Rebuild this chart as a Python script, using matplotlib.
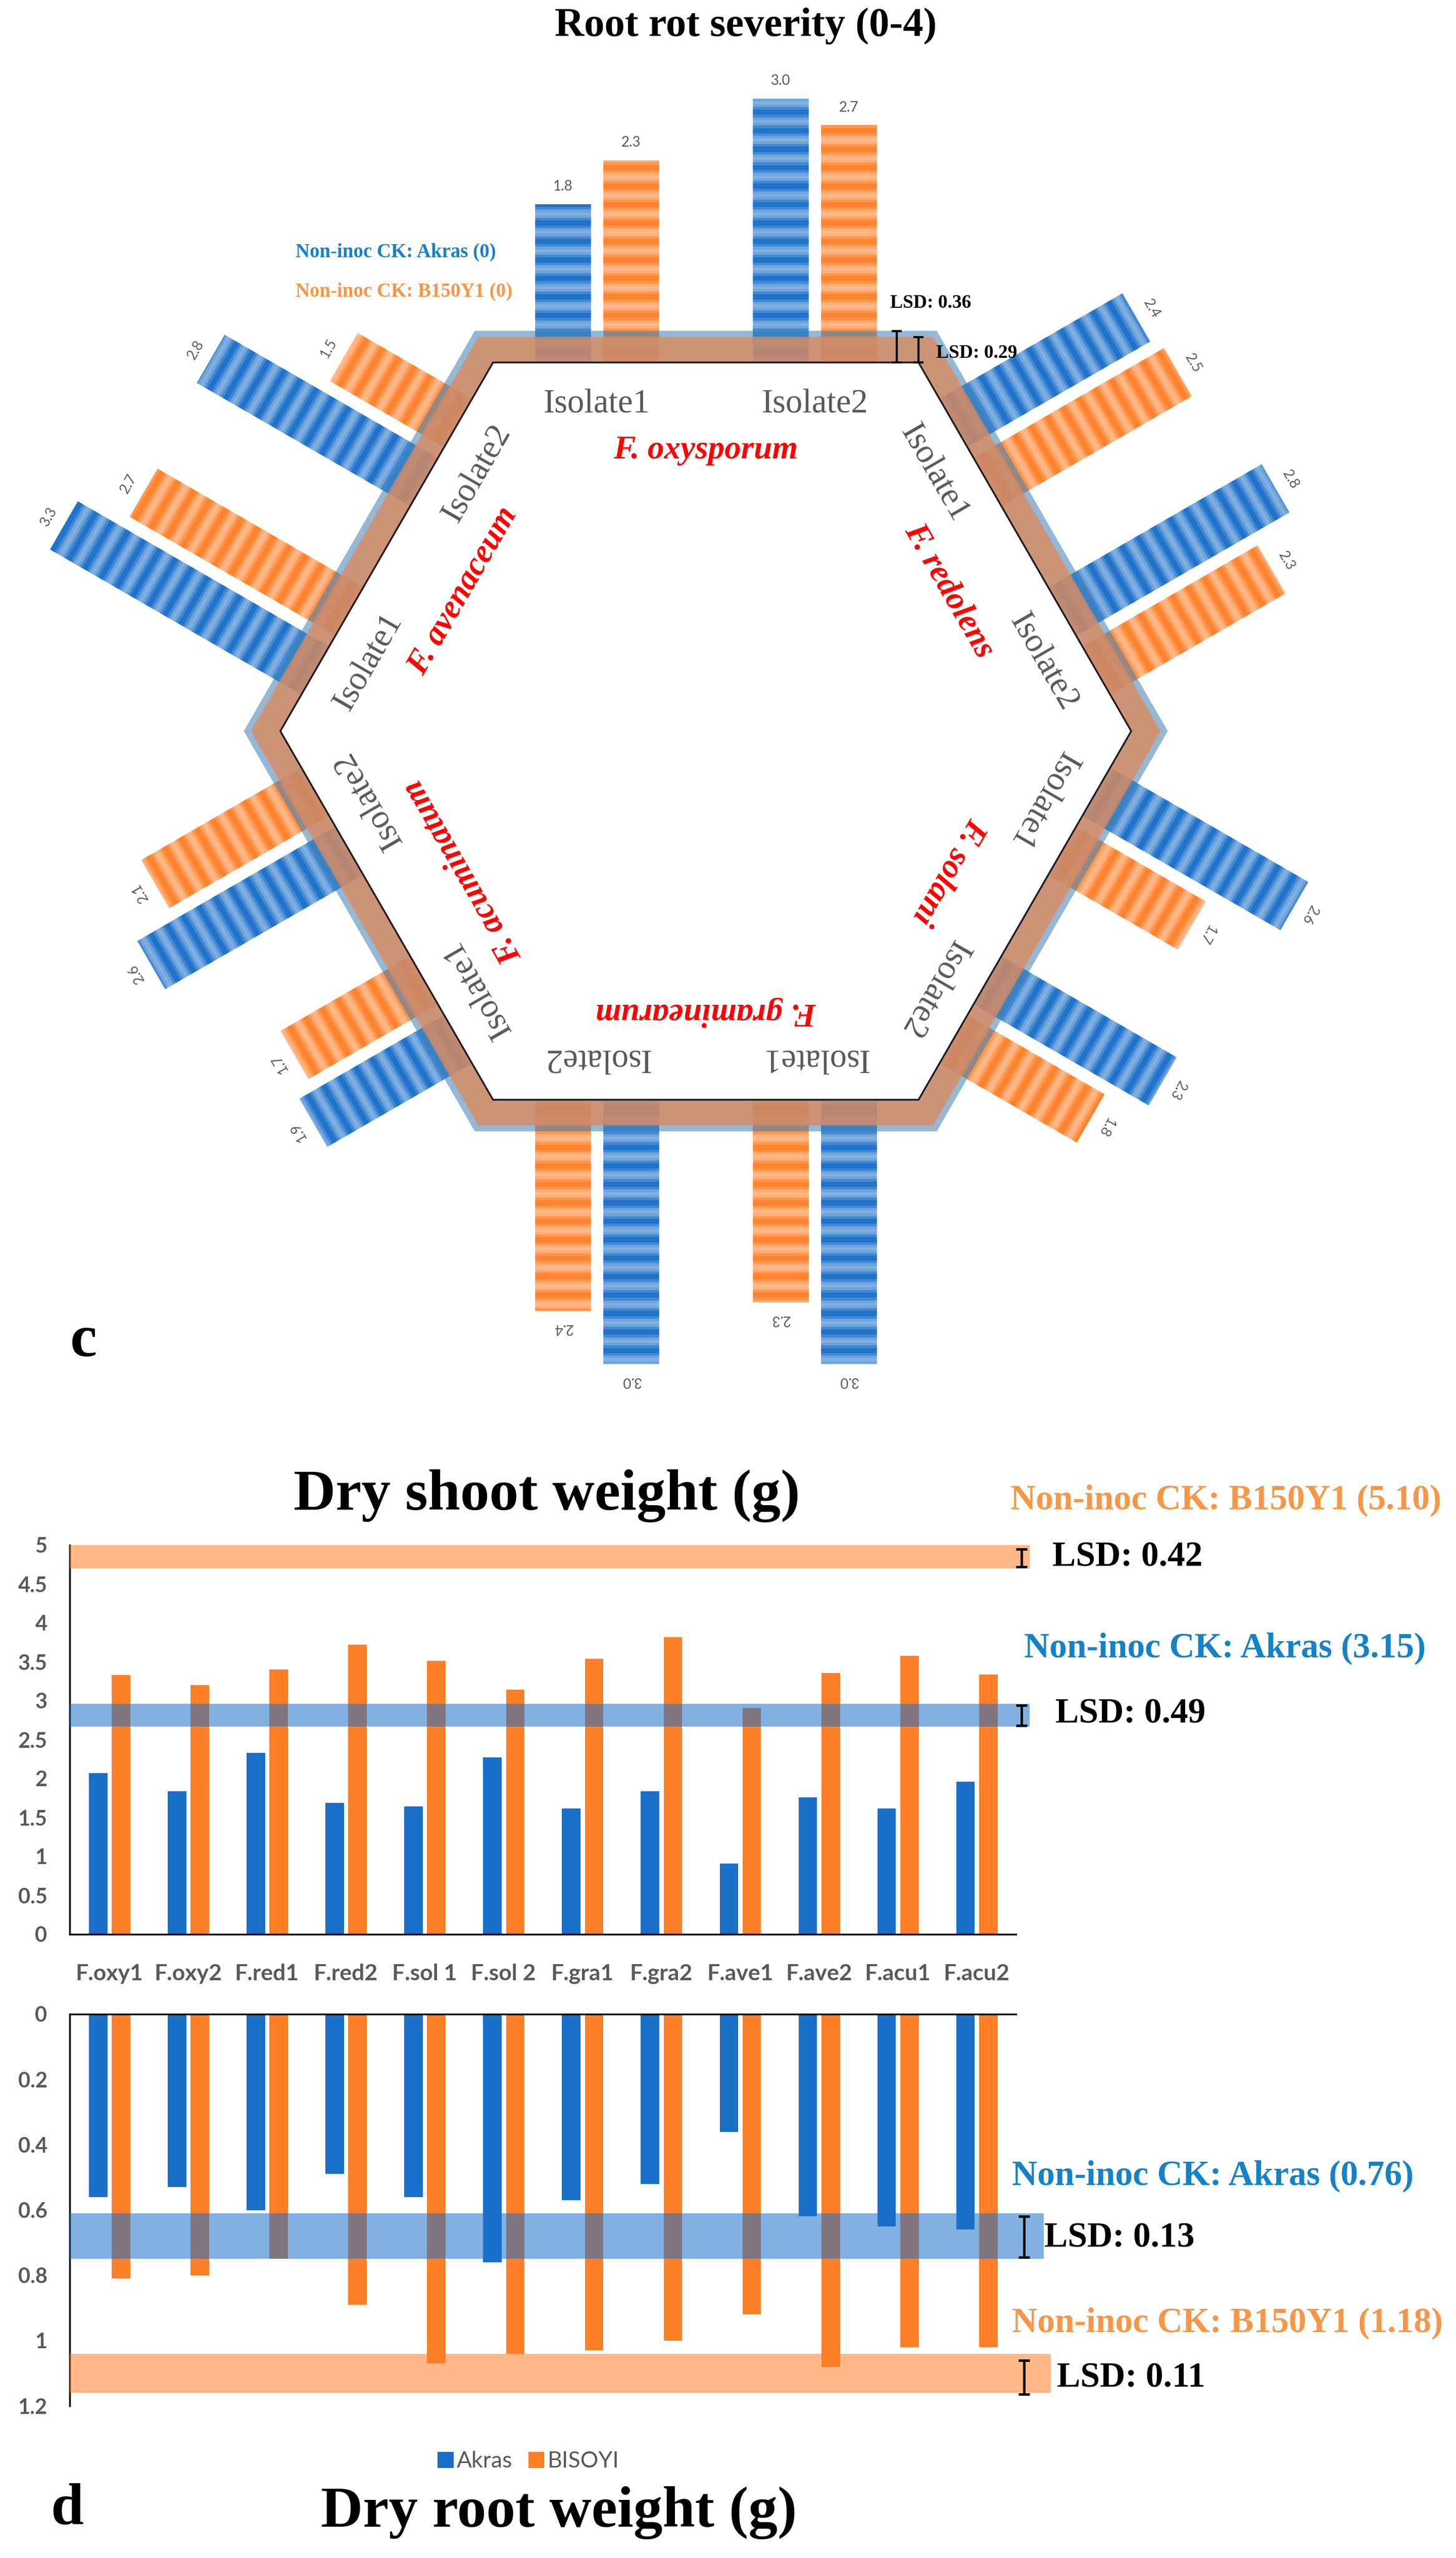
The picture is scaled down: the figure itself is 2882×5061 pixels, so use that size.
import numpy as np
import matplotlib
matplotlib.use("Agg")
import matplotlib.pyplot as plt
from matplotlib.path import Path
from matplotlib.patches import PathPatch, Polygon
from matplotlib.collections import PolyCollection
from matplotlib.colors import to_rgb

# ---- panel c: root rot severity (0-4), clockwise from the top edge ----
species = ["F. oxysporum", "F. redolens", "F. solani",
           "F. graminearum", "F. acuminatum", "F. avenaceum"]
isolates = ["Isolate1", "Isolate2"]
rot_akras = [[1.8, 3.0], [2.4, 2.8], [2.6, 2.3], [3.0, 3.0], [1.9, 2.6], [3.3, 2.8]]
rot_b150 = [[2.3, 2.7], [2.5, 2.3], [1.7, 1.8], [2.3, 2.4], [1.7, 2.1], [2.7, 1.5]]
lsd_rot_akras = 0.36
lsd_rot_b150 = 0.29

# ---- panel d: dry shoot / root weight (g) ----
cats = ["F.oxy1", "F.oxy2", "F.red1", "F.red2", "F.sol 1", "F.sol 2",
        "F.gra1", "F.gra2", "F.ave1", "F.ave2", "F.acu1", "F.acu2"]
shoot_akras = [2.07, 1.84, 2.33, 1.69, 1.64, 2.27, 1.62, 1.84, 0.91, 1.76, 1.62, 1.96]
shoot_b150 = [3.33, 3.20, 3.40, 3.72, 3.51, 3.14, 3.54, 3.82, 2.91, 3.36, 3.58, 3.34]
root_akras = [0.56, 0.53, 0.60, 0.49, 0.56, 0.76, 0.57, 0.52, 0.36, 0.62, 0.65, 0.66]
root_b150 = [0.81, 0.80, 0.75, 0.89, 1.07, 1.04, 1.03, 1.00, 0.92, 1.08, 1.02, 1.02]
shoot_band_b150 = (4.70, 5.00)
shoot_band_akras = (2.67, 2.96)
root_band_akras = (0.61, 0.75)
root_band_b150 = (1.04, 1.16)

SERIF = "Liberation Serif"
SANS = "Lato"
GRAY = "#595959"
BLUE = "#1A6FC9"
ORANGE = "#FF7F27"
TXT_BLUE = "#1482C8"
TXT_ORANGE = "#F79646"

W, H = 2882, 5061
fig = plt.figure(figsize=(W / 100, H / 100), dpi=100)


def fx(px):
    return px / W


def fy(py):
    return 1 - py / H


# ================= hexagon =================
S = 174.0          # pixels per severity unit
CX, CY = 1397, 1446.5
R = 4.84           # inner hexagon circumradius (severity units)
AP = R * np.sqrt(3) / 2
bar_w = 0.63
bar_pos = [-1.625, -0.85, 0.85, 1.625]
iso_pos = [-1.24, 1.24]

ax_h = fig.add_axes([0, fy(2882), 1, 2882 / H])
ax_h.set_xlim(-CX / S, (W - CX) / S)
ax_h.set_ylim(-(2882 - CY) / S, CY / S)
ax_h.axis("off")


def hex_pts(r):
    a = np.deg2rad(np.arange(0, 360, 60))
    return np.c_[r * np.cos(a), r * np.sin(a)]


def ring(r_in, r_out):
    o = hex_pts(r_out)
    i = hex_pts(r_in)[::-1]
    verts = np.vstack([o, o[:1], i, i[:1]])
    codes = ([Path.MOVETO] + [Path.LINETO] * 5 + [Path.CLOSEPOLY]) * 2
    return Path(verts, codes)


def striped_bar(k, t, val, color):
    ang = np.deg2rad(-60 * k)
    tx, ty = np.cos(ang), np.sin(ang)
    nx, ny = -ty, tx
    bx = AP * nx + t * tx
    by = AP * ny + t * ty
    base = np.array(to_rgb(color))
    light = base + (1 - base) * 0.45
    step = 0.03
    n = int(np.ceil(val / step))
    polys, cols = [], []
    for j in range(n):
        s0 = j * step
        s1 = min(val, s0 + step)
        h = bar_w / 2
        p = [(bx - h * tx + s0 * nx, by - h * ty + s0 * ny),
             (bx + h * tx + s0 * nx, by + h * ty + s0 * ny),
             (bx + h * tx + s1 * nx, by + h * ty + s1 * ny),
             (bx - h * tx + s1 * nx, by - h * ty + s1 * ny)]
        f = 0.5 + 0.5 * np.cos(2 * np.pi * s0 / 0.21)
        c = base * (1 - f) + light * f
        polys.append(p)
        cols.append(c)
    pc = PolyCollection(polys, facecolors=cols, edgecolors=cols,
                        linewidths=0.4, zorder=1)
    ax_h.add_collection(pc)
    # value label beyond the bar end
    lx = bx + (val + 0.2) * nx
    ly = by + (val + 0.2) * ny
    ax_h.text(lx, ly, f"{val:.1f}", rotation=-60 * k, rotation_mode="anchor",
              ha="center", va="center", fontsize=20, color=GRAY, family=SANS,
              zorder=5)


for k in range(6):
    vals = [rot_akras[k][0], rot_b150[k][0], rot_akras[k][1], rot_b150[k][1]]
    cols = [BLUE, ORANGE, BLUE, ORANGE]
    for t, v, c in zip(bar_pos, vals, cols):
        striped_bar(k, t, v, c)
    ang = np.deg2rad(-60 * k)
    tx, ty = np.cos(ang), np.sin(ang)
    nx, ny = -ty, tx
    for t, lab in zip(iso_pos, isolates):
        d = AP - 0.47
        ax_h.text(d * nx + t * tx, d * ny + t * ty, lab, rotation=-60 * k,
                  rotation_mode="anchor", ha="center", va="center",
                  fontsize=48, color=GRAY, family=SERIF, zorder=5)
    d = AP - 1.0
    ax_h.text(d * nx, d * ny, species[k], rotation=-60 * k,
              rotation_mode="anchor", ha="center", va="center", fontsize=47,
              color="#FF0000", family=SERIF, weight="bold", style="italic",
              zorder=5)

ax_h.add_patch(PathPatch(ring(R, R + 2 * lsd_rot_akras / np.sqrt(3)),
                         facecolor="#4F8AB8", alpha=0.6, lw=0, zorder=2))
ax_h.add_patch(PathPatch(ring(R, R + 2 * lsd_rot_b150 / np.sqrt(3)),
                         facecolor="#E08758", alpha=0.75, lw=0, zorder=3))
ax_h.add_patch(Polygon(hex_pts(R), closed=True, fill=False, ec="#1a1a1a",
                       lw=2.5, zorder=4))

# LSD markers on the top edge
for xm, lsd in [(2.17, lsd_rot_akras), (2.42, lsd_rot_b150)]:
    ax_h.errorbar(xm, AP + lsd / 2, yerr=lsd / 2, fmt="none",
                  ecolor="black", elinewidth=3, capsize=7, capthick=3,
                  zorder=6)
ax_h.text(2.10, 4.87, f"LSD: {lsd_rot_akras:.2f}", ha="left", va="center",
          fontsize=27, family=SERIF, weight="bold", color="black")
ax_h.text(2.62, 4.30, f"LSD: {lsd_rot_b150:.2f}", ha="left", va="center",
          fontsize=27, family=SERIF, weight="bold", color="black")
ax_h.text(-4.667, 5.445, "Non-inoc CK: Akras (0)", ha="left", va="center",
          fontsize=28, family=SERIF, weight="bold", color=TXT_BLUE)
ax_h.text(-4.667, 5.0, "Non-inoc CK: B150Y1 (0)", ha="left", va="center",
          fontsize=28, family=SERIF, weight="bold", color=TXT_ORANGE)

fig.text(fx(1476), fy(51), "Root rot severity (0-4)", ha="center", va="center",
         fontsize=58, family=SERIF, weight="bold")
fig.text(fx(165), fy(2654), "c", ha="center", va="center", fontsize=86,
         family=SERIF, weight="bold")

# ================= bar charts =================
x = np.arange(len(cats))
bw = 0.235
off_a, off_b = -0.14, 0.15
x_band0 = -0.5


def band(ax, lims, color, x_end):
    ax.fill_between([x_band0, x_end], lims[0], lims[1], color=color,
                    alpha=0.55, lw=0, zorder=3, clip_on=False)


def lsd_mark(ax, xm, lims):
    eb = ax.errorbar(xm, (lims[0] + lims[1]) / 2, yerr=(lims[1] - lims[0]) / 2,
                     fmt="none", ecolor="black", elinewidth=3.5, capsize=8,
                     capthick=3.5, zorder=5)
    for a in list(eb[1]) + list(eb[2]):
        a.set_clip_on(False)


def style_ticks(ax):
    for lab in ax.get_yticklabels():
        lab.set_fontfamily(SANS)
        lab.set_fontweight("bold")
        lab.set_fontsize(30)
        lab.set_color(GRAY)


# dry shoot weight
ax_s = fig.add_axes([fx(138), fy(3827), (2011 - 138) / W, 770 / H])
ax_s.bar(x + off_a, shoot_akras, width=bw, color=BLUE, zorder=2)
ax_s.bar(x + off_b, shoot_b150, width=bw, color=ORANGE, zorder=2)
ax_s.set_xlim(-0.5, 11.5)
ax_s.set_ylim(0, 5)
ax_s.set_yticks(np.arange(0, 5.01, 0.5))
ax_s.set_yticklabels(["0", "0.5", "1", "1.5", "2", "2.5", "3", "3.5", "4", "4.5", "5"])
ax_s.set_xticks(x)
ax_s.set_xticklabels(cats, fontsize=32, family=SANS, weight="bold", color=GRAY)
ax_s.tick_params(axis="both", length=0)
ax_s.tick_params(axis="y", pad=32)
ax_s.tick_params(axis="x", pad=42)
style_ticks(ax_s)
for side in ["top", "right"]:
    ax_s.spines[side].set_visible(False)
for side in ["left", "bottom"]:
    ax_s.spines[side].set_linewidth(2.5)
band(ax_s, shoot_band_b150, ORANGE, 11.67)
band(ax_s, shoot_band_akras, BLUE, 11.67)
lsd_mark(ax_s, 11.57, (4.72, 4.95))
lsd_mark(ax_s, 11.57, (2.68, 2.94))
ax_s.text(11.43, 5.58, "Non-inoc CK: B150Y1 (5.10)", ha="left", va="center",
          fontsize=50, family=SERIF, weight="bold", color=TXT_ORANGE)
ax_s.text(11.96, 4.84, "LSD: 0.42", ha="left", va="center",
          fontsize=50, family=SERIF, weight="bold", color="black")
ax_s.text(11.60, 3.675, "Non-inoc CK: Akras (3.15)", ha="left", va="center",
          fontsize=50, family=SERIF, weight="bold", color=TXT_BLUE)
ax_s.text(12.0, 2.825, "LSD: 0.49", ha="left", va="center",
          fontsize=50, family=SERIF, weight="bold", color="black")
fig.text(fx(1082), fy(2960), "Dry shoot weight (g)", ha="center", va="center",
         fontsize=83, family=SERIF, weight="bold")

# dry root weight (inverted)
ax_r = fig.add_axes([fx(138), fy(4760), (2011 - 138) / W, 775 / H])
ax_r.bar(x + off_a, root_akras, width=bw, color=BLUE, zorder=2, label="Akras")
ax_r.bar(x + off_b, root_b150, width=bw, color=ORANGE, zorder=2, label="BISOYI")
ax_r.set_xlim(-0.5, 11.5)
ax_r.set_ylim(1.2, 0)
ax_r.set_yticks(np.arange(0, 1.21, 0.2))
ax_r.set_yticklabels(["0", "0.2", "0.4", "0.6", "0.8", "1", "1.2"])
ax_r.set_xticks([])
ax_r.tick_params(axis="both", length=0)
ax_r.tick_params(axis="y", pad=32)
style_ticks(ax_r)
for side in ["bottom", "right"]:
    ax_r.spines[side].set_visible(False)
for side in ["left", "top"]:
    ax_r.spines[side].set_linewidth(2.5)
band(ax_r, root_band_akras, BLUE, 11.85)
band(ax_r, root_band_b150, ORANGE, 11.94)
lsd_mark(ax_r, 11.6, (0.62, 0.745))
lsd_mark(ax_r, 11.6, (1.06, 1.165))
ax_r.text(11.45, 0.495, "Non-inoc CK: Akras (0.76)", ha="left", va="center",
          fontsize=50, family=SERIF, weight="bold", color=TXT_BLUE)
ax_r.text(11.86, 0.687, "LSD: 0.13", ha="left", va="center",
          fontsize=50, family=SERIF, weight="bold", color="black")
ax_r.text(11.45, 0.946, "Non-inoc CK: B150Y1 (1.18)", ha="left", va="center",
          fontsize=50, family=SERIF, weight="bold", color=TXT_ORANGE)
ax_r.text(12.02, 1.115, "LSD: 0.11", ha="left", va="center",
          fontsize=50, family=SERIF, weight="bold", color="black")
ax_r.legend(loc="center", bbox_to_anchor=(fx(1046), fy(4870)),
            bbox_transform=fig.transFigure, ncol=2, frameon=False,
            prop={"family": SANS, "size": 32}, handlelength=0.7,
            handleheight=0.7, handletextpad=0.15, columnspacing=0.7,
            labelcolor=GRAY)
fig.text(fx(1106), fy(4971), "Dry root weight (g)", ha="center", va="center",
         fontsize=83, family=SERIF, weight="bold")
fig.text(fx(133), fy(4966), "d", ha="center", va="center", fontsize=84,
         family=SERIF, weight="bold")

fig.savefig("out.png", dpi=100)
